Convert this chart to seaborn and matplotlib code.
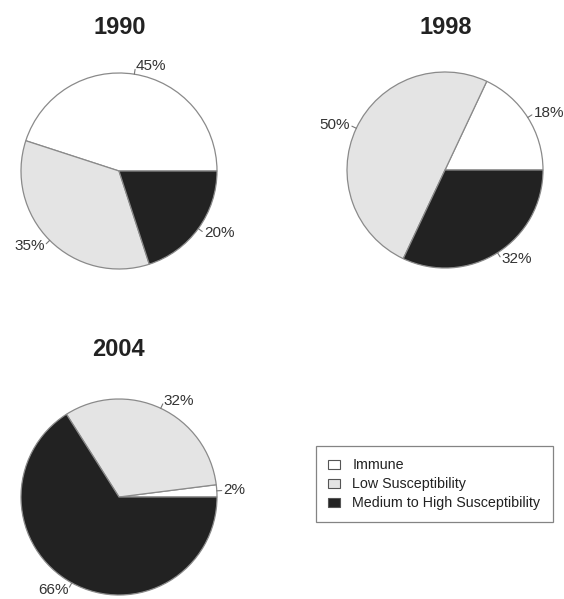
import numpy as np
import matplotlib
matplotlib.use("Agg")
import matplotlib.pyplot as plt
import seaborn as sns
from matplotlib.patches import Patch

sns.set_theme(style="white")
plt.rcParams["font.family"] = ["Liberation Sans", "DejaVu Sans"]

categories = ["Immune", "Low Susceptibility", "Medium to High Susceptibility"]
years = ["1990", "1998", "2004"]
values_1990 = [45, 35, 20]
values_1998 = [18, 50, 32]
values_2004 = [2, 32, 66]
colors = ["#ffffff", "#e4e4e4", "#222222"]

W, H = 564, 599
fig = plt.figure(figsize=(W / 100, H / 100), dpi=100)

# pie centers / radius in pixels, title positions
layout = [
    (values_1990, "1990", (119, 171), 98, (120, 27)),
    (values_1998, "1998", (445, 170), 98, (446, 27)),
    (values_2004, "2004", (119, 497), 98, (118, 350)),
]

for vals, yr, (cx, cy), r, (tx, ty) in layout:
    ax = fig.add_axes([(cx - r) / W, (H - cy - r) / H, 2 * r / W, 2 * r / H])
    ax.pie(vals, colors=colors, startangle=0, counterclock=True, radius=1,
           wedgeprops=dict(edgecolor="#8a8a8a", linewidth=0.9))
    ax.set_xlim(-1, 1)
    ax.set_ylim(-1, 1)
    ax.set_aspect("equal")
    ax.axis("off")
    total = sum(vals)
    start = 0.0
    for v in vals:
        mid = np.deg2rad(start + 360 * v / total / 2)
        start += 360 * v / total
        c, s = np.cos(mid), np.sin(mid)
        ax.plot([1.0 * c, 1.05 * c], [1.0 * s, 1.05 * s], color="#777777", lw=0.8,
                clip_on=False)
        ax.text(1.07 * c, 1.08 * s, f"{v}%", ha="left" if c > 0 else "right",
                va="center", fontsize=11, color="#333333", clip_on=False)
    fig.text(tx / W, 1 - ty / H, yr, ha="center", va="center", fontsize=17,
             fontweight="bold", color="#222222")

handles = [Patch(facecolor=col, edgecolor="#555555", linewidth=0.8) for col in colors]
leg = fig.legend(handles, categories, loc="upper left",
                 bbox_to_anchor=(316 / W, 1 - 446 / H), frameon=True, fancybox=False,
                 fontsize=10.3, handlelength=0.8, handleheight=0.6, handletextpad=0.9,
                 labelspacing=0.35, borderpad=0.85, borderaxespad=0,
                 edgecolor="#666666")
leg.get_frame().set_linewidth(0.9)
for t in leg.get_texts():
    t.set_color("#222222")

fig.savefig("out.png", dpi=100, facecolor="white")
